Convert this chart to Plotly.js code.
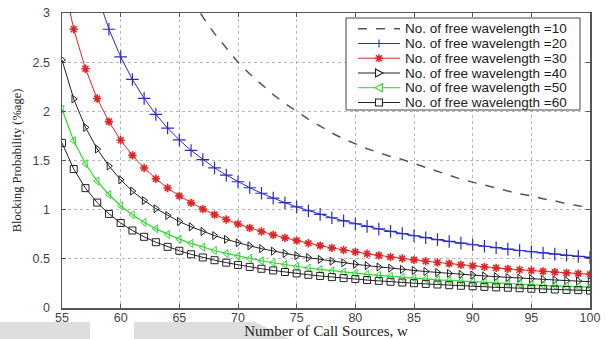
<!DOCTYPE html>
<html>
<head>
<meta charset="utf-8">
<script src="https://cdn.plot.ly/plotly-3.0.1.min.js"></script>
<style>html,body{margin:0;padding:0;background:#fff;}#chart{width:606px;height:339px;}</style>
</head>
<body>
<div id="chart"></div>
<script>
// Number of call sources, w
const callSources = [55,56,57,58,59,60,61,62,63,64,65,66,67,68,69,70,71,72,73,74,75,76,77,78,79,80,81,82,83,84,85,86,87,88,89,90,91,92,93,94,95,96,97,98,99,100];

// Blocking probability (%age) for each number of free wavelengths
const wl10 = [null,null,null,null,null,null,null,null,null,null,null,3.15,2.96,2.79,2.64,2.50,2.38,2.27,2.17,2.08,2.00,1.92,1.85,1.78,1.72,1.67,1.62,1.58,1.54,1.51,1.47,1.43,1.39,1.35,1.31,1.28,1.25,1.22,1.19,1.16,1.14,1.11,1.09,1.06,1.04,1.02];
const wl20 = [null,null,null,3.19,2.835,2.554,2.324,2.132,1.969,1.830,1.709,1.602,1.509,1.425,1.351,1.284,1.223,1.167,1.117,1.071,1.028,0.989,0.952,0.918,0.887,0.857,0.830,0.804,0.779,0.757,0.735,0.715,0.695,0.677,0.660,0.643,0.628,0.613,0.599,0.585,0.572,0.560,0.548,0.536,0.525,0.515];
const wl30 = [3.396,2.835,2.433,2.130,1.895,1.706,1.552,1.423,1.314,1.221,1.140,1.069,1.006,0.950,0.900,0.855,0.815,0.778,0.744,0.713,0.685,0.658,0.634,0.611,0.590,0.571,0.552,0.535,0.519,0.504,0.489,0.476,0.463,0.451,0.439,0.428,0.418,0.408,0.398,0.389,0.381,0.372,0.365,0.357,0.350,0.343];
const wl40 = [2.523,2.126,1.837,1.617,1.444,1.304,1.189,1.093,1.011,0.941,0.879,0.826,0.778,0.736,0.698,0.663,0.632,0.604,0.578,0.554,0.533,0.512,0.494,0.476,0.460,0.445,0.431,0.417,0.405,0.393,0.382,0.371,0.361,0.352,0.343,0.335,0.326,0.319,0.311,0.304,0.298,0.291,0.285,0.279,0.274,0.268];
const wl50 = [2.021,1.700,1.467,1.290,1.152,1.040,0.948,0.871,0.805,0.749,0.700,0.657,0.619,0.585,0.555,0.528,0.503,0.480,0.460,0.441,0.423,0.407,0.392,0.378,0.366,0.353,0.342,0.332,0.322,0.312,0.303,0.295,0.287,0.280,0.273,0.266,0.259,0.253,0.247,0.242,0.236,0.231,0.226,0.222,0.217,0.213];
const wl60 = [1.679,1.413,1.219,1.072,0.957,0.864,0.788,0.724,0.669,0.622,0.582,0.546,0.514,0.486,0.461,0.438,0.418,0.399,0.382,0.366,0.352,0.338,0.326,0.314,0.304,0.294,0.284,0.276,0.267,0.259,0.252,0.245,0.239,0.232,0.226,0.221,0.215,0.210,0.206,0.201,0.196,0.192,0.188,0.184,0.181,0.177];

const seriesNames = ['No. of free wavelength =10','No. of free wavelength =20','No. of free wavelength =30','No. of free wavelength =40','No. of free wavelength =50','No. of free wavelength =60'];
const xTicks = [55,60,65,70,75,80,85,90,95,100];
const yTicks = [0,0.5,1,1.5,2,2.5,3];
const yTickText = ['0','0.5','1','1.5','2','2.5','3'];

// styles
const colors = ['#555555','#2b2bc8','#e02525','#222222','#2fd82f','#222222'];
const symbols = [null,'cross-thin-open','asterisk-open','triangle-right-open','triangle-left-open','square-open'];
const allY = [wl10, wl20, wl30, wl40, wl50, wl60];

const traces = allY.map((ys, i) => {
  const t = {x: callSources, y: ys, name: seriesNames[i], showlegend: false};
  if (i === 0) {
    t.mode = 'lines';
    t.line = {color: colors[i], width: 1.5, dash: 'dash'};
  } else {
    t.mode = 'lines+markers';
    t.line = {color: colors[i], width: i === 4 ? 1.2 : 1};
    const sz = i === 1 ? 9 : 7;
    const lw = i === 2 ? 1.6 : (i === 1 ? 1.2 : 1);
    t.marker = {symbol: symbols[i], size: sz, color: colors[i], line: {color: colors[i], width: lw}};
  }
  return t;
});

// Hand-built legend box (MATLAB style)
const px = v => (v - 62) / 528;          // pixel -> paper x
const py = v => (308 - v) / 295;         // pixel -> paper y
const rowY = [28.7, 43.5, 58.2, 73.0, 87.7, 102.5];
const glyphPaths = [
  null,
  'M -4 0 L 4 0 M 0 -4 L 0 4',
  'M -4 0 L 4 0 M 0 -4 L 0 4 M -3 -3 L 3 3 M -3 3 L 3 -3',
  'M -3.5 -4 L 4 0 L -3.5 4 Z',
  'M 3.5 -4 L -4 0 L 3.5 4 Z',
  'M -3.5 -3.5 L 3.5 -3.5 L 3.5 3.5 L -3.5 3.5 Z'
];
const shapes = [
  {type: 'rect', xref: 'paper', yref: 'paper', x0: px(346), x1: px(580), y0: py(110), y1: py(18),
   fillcolor: '#ffffff', line: {color: '#444444', width: 1}, layer: 'above'},
  // grey blocks along the bottom edge of the picture
  {type: 'rect', xref: 'paper', yref: 'paper', x0: px(0), x1: px(90), y0: py(322), y1: py(339),
   fillcolor: '#dedede', line: {width: 0}, layer: 'below'},
  {type: 'path', xref: 'paper', yref: 'paper',
   path: `M ${px(134)} ${py(322)} L ${px(255)} ${py(322)} L ${px(290)} ${py(339)} L ${px(134)} ${py(339)} Z`,
   fillcolor: '#dedede', line: {width: 0}, layer: 'below'}
];
const annotations = [];
rowY.forEach((ry, i) => {
  shapes.push({type: 'line', xref: 'paper', yref: 'paper', x0: px(358), x1: px(400), y0: py(ry), y1: py(ry),
    line: {color: colors[i], width: i === 0 ? 1.5 : 1, dash: i === 0 ? 'dash' : 'solid'}, layer: 'above'});
  if (glyphPaths[i]) {
    shapes.push({type: 'path', xref: 'paper', yref: 'paper', xsizemode: 'pixel', ysizemode: 'pixel',
      xanchor: px(379), yanchor: py(ry), path: glyphPaths[i],
      fillcolor: (i >= 3) ? '#ffffff' : 'rgba(0,0,0,0)',
      line: {color: colors[i], width: i === 2 ? 1.5 : 1.1}, layer: 'above'});
  }
  annotations.push({xref: 'paper', yref: 'paper', x: px(403), y: py(ry), xanchor: 'left', yanchor: 'middle',
    text: seriesNames[i], showarrow: false,
    font: {family: 'Liberation Sans, Arial, sans-serif', size: 13.5, color: '#222222'}});
});

const axisCommon = {
  showline: true, linecolor: '#555555', linewidth: 1.5, mirror: 'ticks',
  ticks: 'inside', ticklen: 4, tickcolor: '#555555', tickwidth: 1,
  showgrid: true, gridcolor: '#b8b8b8', griddash: 'dot', gridwidth: 1,
  zeroline: false,
  tickfont: {family: 'Liberation Sans, Arial, sans-serif', size: 12.5, color: '#444444'}
};

const layout = {
  width: 606, height: 339,
  margin: {l: 62, r: 16, t: 13, b: 31},
  paper_bgcolor: '#ffffff', plot_bgcolor: '#ffffff',
  showlegend: false,
  xaxis: Object.assign({}, axisCommon, {
    range: [55, 100], tickvals: xTicks, ticktext: xTicks.map(String),
    ticklabelstandoff: -3,
    title: {text: 'Number of Call Sources, w', standoff: 0,
            font: {family: 'Liberation Serif, Times New Roman, serif', size: 15, color: '#222222'}}
  }),
  yaxis: Object.assign({}, axisCommon, {
    range: [0, 3], tickvals: yTicks, ticktext: yTickText,
    ticklabelstandoff: 8,
    title: {text: 'Blocking Probability (%age)', standoff: 8,
            font: {family: 'Liberation Serif, Times New Roman, serif', size: 12.5, color: '#222222'}}
  }),
  shapes: shapes,
  annotations: annotations
};

Plotly.newPlot('chart', traces, layout, {displayModeBar: false, staticPlot: true});
</script>
</body>
</html>
